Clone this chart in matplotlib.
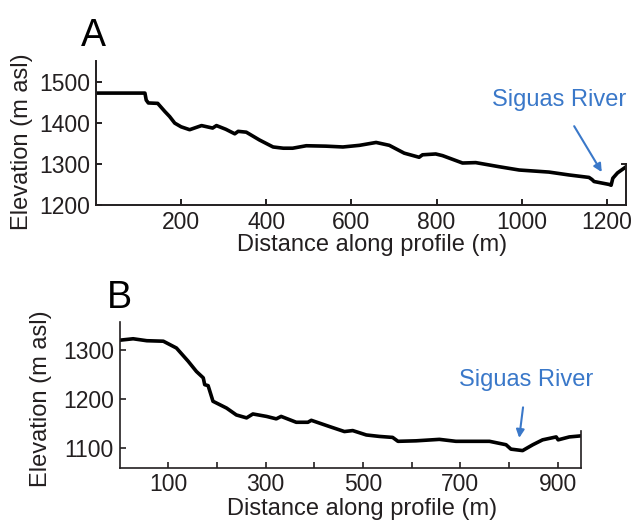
import matplotlib.pyplot as plt

plt.rcParams['font.family'] = ['Liberation Sans', 'DejaVu Sans']

# Profile A (distance in m, elevation in m asl)
dist_a = [0, 60, 115, 118, 123, 145, 162, 173, 185, 200, 220, 248, 274, 283, 305,
          326, 334, 353, 384, 416, 440, 462, 494, 540, 580, 619, 658, 689, 724,
          759, 767, 798, 814, 861, 892, 947, 994, 1064, 1111, 1158, 1165, 1170,
          1205, 1210, 1214, 1225, 1244]
elev_a = [1472, 1472, 1472, 1455, 1448, 1447, 1427, 1415, 1399, 1390, 1383, 1393,
          1387, 1393, 1384, 1373, 1379, 1377, 1358, 1341, 1338, 1338, 1344, 1343,
          1341, 1345, 1352, 1345, 1326, 1316, 1322, 1324, 1320, 1302, 1303, 1293,
          1285, 1280, 1273, 1267, 1262, 1257, 1250, 1248, 1265, 1278, 1292]

# Profile B
dist_b = [0, 28, 56, 90, 117, 141, 158, 172, 175, 182, 192, 220, 240, 261, 274,
          302, 322, 332, 363, 387, 394, 432, 462, 479, 507, 534, 561, 572, 609,
          657, 691, 760, 794, 804, 828, 849, 869, 897, 901, 924, 946]
elev_b = [1321, 1324, 1320, 1319, 1305, 1278, 1257, 1244, 1230, 1228, 1196, 1182,
          1168, 1162, 1170, 1165, 1160, 1165, 1153, 1153, 1157, 1144, 1134, 1136,
          1127, 1124, 1122, 1114, 1115, 1118, 1114, 1114, 1107, 1098, 1095, 1107,
          1117, 1123, 1117, 1123, 1125]

ink = '#231f20'
blue = '#3a78c9'

fig = plt.figure(figsize=(6.31, 5.20), dpi=100)
ax_a = fig.add_axes([0.1521, 0.6058, 0.840, 0.2769])
ax_b = fig.add_axes([0.1894, 0.1006, 0.7314, 0.2808])


def style(ax, lw):
    for side in ['top', 'right']:
        ax.spines[side].set_visible(False)
    for side in ['left', 'bottom']:
        ax.spines[side].set_linewidth(lw)
        ax.spines[side].set_color(ink)
    ax.tick_params(direction='in', length=4, width=lw, colors=ink,
                   labelsize=16.5, pad=4)
    ax.tick_params(axis='x', pad=4)


# --- panel A
ax_a.plot(dist_a, elev_a, color='black', lw=2.6, solid_joinstyle='round')
ax_a.set_xlim(0, 1245)
ax_a.set_ylim(1200, 1550)
ax_a.set_xticks([200, 400, 600, 800, 1000, 1200])
ax_a.set_yticks([1200, 1300, 1400, 1500])
style(ax_a, 1.4)
ax_a.plot([1245, 1245], [1200, 1300], color=ink, lw=1.4, clip_on=False)
ax_a.plot([1236, 1245], [1300, 1300], color=ink, lw=1.4, clip_on=False)
ax_a.set_ylabel('Elevation (m asl)', fontsize=17, color=ink)
ax_a.set_xlabel('Distance along profile (m)', fontsize=17, color=ink)
ax_a.yaxis.set_label_coords(-0.119, 0.44)
ax_a.xaxis.set_label_coords(0.52, -0.2)
ax_a.annotate('Siguas River', xy=(1188, 1280), xytext=(1087, 1454),
              textcoords='data', ha='center', va='center', fontsize=17,
              color=blue, annotation_clip=False,
              arrowprops=dict(arrowstyle='-|>', color=blue, lw=1.5,
                              mutation_scale=12, shrinkA=10, shrinkB=0))

# --- panel B
ax_b.plot(dist_b, elev_b, color='black', lw=2.6, solid_joinstyle='round')
ax_b.set_xlim(0, 948)
ax_b.set_ylim(1060, 1359)
ax_b.set_xticks([100, 200, 300, 400, 500, 600, 700, 800, 900])
ax_b.set_xticklabels(['100', '', '300', '', '500', '', '700', '', '900'])
ax_b.set_yticks([1100, 1200, 1300])
style(ax_b, 1.2)
ax_b.plot([948, 948], [1060, 1136], color=ink, lw=1.2, clip_on=False)
ax_b.set_ylabel('Elevation (m asl)', fontsize=17, color=ink)
ax_b.set_xlabel('Distance along profile (m)', fontsize=17, color=ink)
ax_b.yaxis.set_label_coords(-0.1465, 0.475)
ax_b.xaxis.set_label_coords(0.525, -0.205)
ax_b.annotate('Siguas River', xy=(821, 1121), xytext=(836, 1240),
              textcoords='data', ha='center', va='center', fontsize=17,
              color=blue, annotation_clip=False,
              arrowprops=dict(arrowstyle='-|>', color=blue, lw=1.5,
                              mutation_scale=12, shrinkA=10, shrinkB=0))

fig.text(93 / 631, 1 - 36 / 520, 'A', fontsize=27, ha='center', va='center')
fig.text(119 / 631, 1 - 298 / 520, 'B', fontsize=27, ha='center', va='center')

fig.savefig('out.png', dpi=100)
